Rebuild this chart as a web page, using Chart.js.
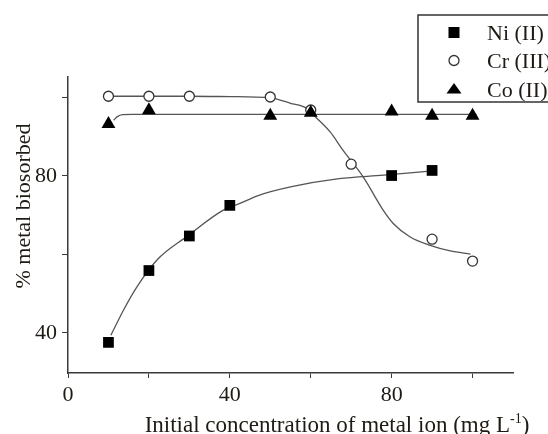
<!DOCTYPE html>
<html>
<head>
<meta charset="utf-8">
<script src="https://cdn.jsdelivr.net/npm/chart.js@4.4.1/dist/chart.umd.min.js"></script>
<style>
  html, body { margin: 0; padding: 0; background: #fff; }
  #wrap { width: 548px; height: 434px; }
</style>
</head>
<body>
<div id="wrap"><canvas id="chart"></canvas></div>
<script>
// measured points
const niX = [10, 20, 30, 40, 80, 90];
const niY = [37.6, 55.9, 64.7, 72.5, 80.1, 81.4];
const crX = [10, 20, 30, 50, 60, 70, 90, 100];
const crY = [100.3, 100.3, 100.3, 100.1, 96.8, 83.0, 63.9, 58.3];
const coX = [10, 20, 50, 60, 80, 90, 100];
const coY = [93.2, 96.7, 95.3, 96.1, 96.4, 95.3, 95.3];

// fitted curves
const niFitX = [10.6, 13.7, 17, 22, 29.4, 38.4, 42.5, 47, 55, 67, 78, 90];
const niFitY = [39.4, 45.8, 51.7, 58.6, 64.6, 71.3, 73.0, 75.0, 77.2, 79.3, 80.2, 81.3];
const crFitX = [10, 20, 30, 40, 50, 55, 59, 61.5, 64.8, 68, 73, 77.9, 80.4, 84.5, 89.5, 94.5, 99.5];
const crFitY = [100.3, 100.3, 100.3, 100.2, 99.9, 98.5, 97.2, 94.7, 91.2, 86.5, 79.7, 71.3, 67.9, 64.5, 62.3, 60.9, 60.1];
const coFitX = [11.3, 12.2, 13.5, 16, 60, 101];
const coFitY = [94.2, 95.1, 95.6, 95.7, 95.7, 95.7];

const xTicks = [0, 20, 40, 60, 80, 100];
const xLabelled = [0, 40, 80];
const yTicks = [40, 60, 80, 100];
const yLabelled = [40, 80];

const legendNames = ['Ni (II)', 'Cr (III)', 'Co (II)'];

const serif = '"Liberation Serif", "Times New Roman", serif';
const textColor = '#1e1a14';
const axisColor = '#3a3a3a';
const curveColor = '#555';

function pts(xs, ys) {
    return xs.map((x, i) => ({ x: x, y: ys[i] }));
}

function curve(xs, ys) {
    return {
        data: pts(xs, ys),
        showLine: true,
        borderColor: curveColor,
        borderWidth: 1.3,
        pointRadius: 0,
        cubicInterpolationMode: 'monotone',
        order: 5
    };
}

// titles and legend box
const decorPlugin = {
    id: 'decor',
    afterDraw(chart) {
        const ctx = chart.ctx;
        ctx.save();
        ctx.fillStyle = textColor;

        // x title with superscript
        ctx.textBaseline = 'alphabetic';
        ctx.textAlign = 'left';
        const a = 'Initial concentration of metal ion (mg L';
        const sup = '-1';
        const b = ')';
        ctx.font = '23px ' + serif;
        const wa = ctx.measureText(a).width;
        const wb = ctx.measureText(b).width;
        ctx.font = '14px ' + serif;
        const ws = ctx.measureText(sup).width;
        const x0 = 337 - (wa + ws + wb) / 2;
        ctx.font = '23px ' + serif;
        ctx.fillText(a, x0, 432);
        ctx.font = '14px ' + serif;
        ctx.fillText(sup, x0 + wa, 423);
        ctx.font = '23px ' + serif;
        ctx.fillText(b, x0 + wa + ws, 432);

        // y title
        ctx.save();
        ctx.font = '22px ' + serif;
        ctx.translate(30, 206);
        ctx.rotate(-Math.PI / 2);
        ctx.textAlign = 'center';
        ctx.fillText('% metal biosorbed', 0, 0);
        ctx.restore();

        // legend
        ctx.fillStyle = '#fff';
        ctx.fillRect(418, 15, 150, 87);
        ctx.strokeStyle = '#333';
        ctx.lineWidth = 1.5;
        ctx.strokeRect(418, 15, 150, 87);

        const rows = [40, 68, 97];
        const mx = 454;
        // square
        ctx.fillStyle = '#000';
        ctx.fillRect(mx - 5.5, 27, 11, 11);
        // circle
        ctx.beginPath();
        ctx.arc(mx, 60.5, 5, 0, Math.PI * 2);
        ctx.strokeStyle = '#333';
        ctx.lineWidth = 1.3;
        ctx.stroke();
        // triangle
        ctx.beginPath();
        ctx.moveTo(mx, 83);
        ctx.lineTo(mx + 7.5, 93.5);
        ctx.lineTo(mx - 7.5, 93.5);
        ctx.closePath();
        ctx.fill();

        ctx.fillStyle = textColor;
        ctx.font = '22px ' + serif;
        ctx.textAlign = 'left';
        legendNames.forEach((n, i) => ctx.fillText(n, 487, rows[i]));
        ctx.restore();
    }
};

new Chart(document.getElementById('chart'), {
    type: 'scatter',
    data: {
        datasets: [
            {
                data: pts(niX, niY),
                pointStyle: 'rect',
                pointRadius: 7.6,
                pointBackgroundColor: '#000',
                pointBorderColor: '#000',
                pointBorderWidth: 0,
                order: 1
            },
            {
                data: pts(crX, crY),
                pointStyle: 'circle',
                pointRadius: 5,
                pointBackgroundColor: '#fff',
                pointBorderColor: '#333',
                pointBorderWidth: 1.3,
                order: 2
            },
            {
                data: pts(coX, coY),
                pointStyle: 'triangle',
                pointRadius: 8,
                pointBackgroundColor: '#000',
                pointBorderColor: '#000',
                pointBorderWidth: 0,
                order: 1
            },
            curve(niFitX, niFitY),
            curve(crFitX, crFitY),
            curve(coFitX, coFitY)
        ]
    },
    options: {
        responsive: true,
        maintainAspectRatio: false,
        animation: false,
        layout: { padding: { top: 77, right: 35, left: 0, bottom: 0 } },
        plugins: {
            legend: { display: false },
            tooltip: { enabled: false }
        },
        scales: {
            x: {
                type: 'linear',
                min: 0,
                max: 110,
                afterBuildTicks: s => { s.ticks = xTicks.map(v => ({ value: v })); },
                afterFit: s => { s.height = 61; },
                ticks: {
                    autoSkip: false,
                    maxRotation: 0,
                    padding: 4,
                    color: textColor,
                    font: { family: serif, size: 22 },
                    callback: v => xLabelled.includes(v) ? v : ''
                },
                grid: { drawOnChartArea: false, drawTicks: true, tickLength: 5, color: axisColor, lineWidth: 1 },
                border: { display: true, color: axisColor, width: 1.5 }
            },
            y: {
                type: 'linear',
                min: 29.8,
                max: 105.2,
                afterBuildTicks: s => { s.ticks = yTicks.map(v => ({ value: v })); },
                afterFit: s => { s.width = 68; },
                ticks: {
                    autoSkip: false,
                    padding: 5,
                    color: textColor,
                    font: { family: serif, size: 22 },
                    callback: v => yLabelled.includes(v) ? v : ''
                },
                grid: { drawOnChartArea: false, drawTicks: true, tickLength: 6, color: axisColor, lineWidth: 1 },
                border: { display: true, color: axisColor, width: 1.5 }
            }
        }
    },
    plugins: [decorPlugin]
});
</script>
</body>
</html>
